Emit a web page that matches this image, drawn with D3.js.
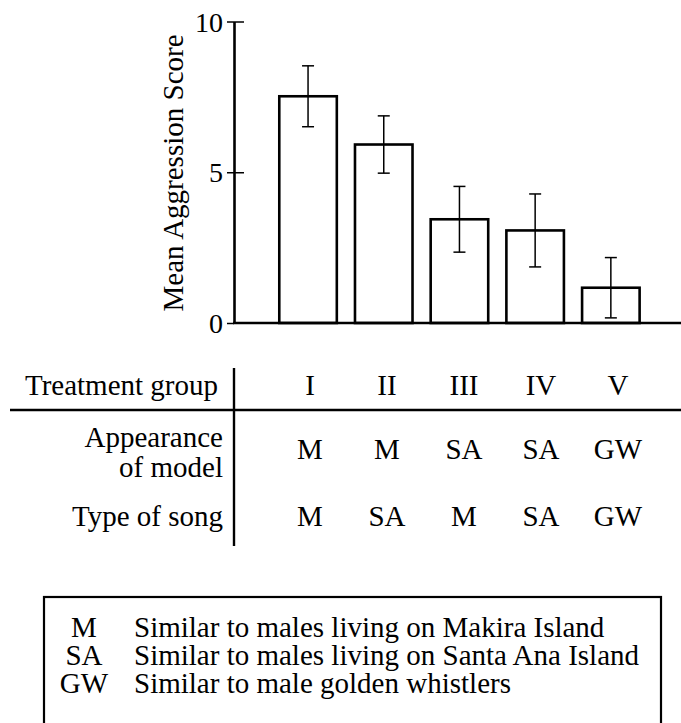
<!DOCTYPE html>
<html><head><meta charset="utf-8">
<script src="https://cdn.jsdelivr.net/npm/d3@7"></script>
<style>body{margin:0;background:#fff}</style>
</head><body><svg id="c" width="681" height="723" font-family="Liberation Serif, serif"></svg>
<script>
const groups = ["I", "II", "III", "IV", "V"];
const means = [7.52, 5.92, 3.44, 3.07, 1.17];
const errors = [1.01, 0.95, 1.09, 1.21, 1.0];
const yTicks = [0, 5, 10];
const yLabel = "Mean Aggression Score";
const headerLabel = "Treatment group";
const appearanceLabel = ["Appearance", "of model"];
const songLabel = "Type of song";
const appearance = ["M", "M", "SA", "SA", "GW"];
const song = ["M", "SA", "M", "SA", "GW"];
const legendCodes = ["M", "SA", "GW"];
const legendTexts = [
  "Similar to males living on Makira Island",
  "Similar to males living on Santa Ana Island",
  "Similar to male golden whistlers"
];

const FONT = '"Liberation Serif"';
const svg = d3.select("#c");

const axisX = 234, baseY = 323;
const y = d3.scaleLinear().domain([0, 10]).range([baseY, 21.5]);
const x = d3.scaleBand().domain(groups).range([270.2, 648.7]).paddingInner(0.24).paddingOuter(0.12);
const col = d3.scalePoint().domain(groups).range([310, 618]);

// Y axis
const yAxis = svg.append("g").attr("transform", `translate(${axisX},0)`)
  .call(d3.axisLeft(y).tickValues(yTicks).tickSizeOuter(0).tickSizeInner(7).tickPadding(5));
yAxis.attr("font-family", "Liberation Serif, serif");
yAxis.select(".domain").attr("stroke", "#000").attr("stroke-width", 2.6);
yAxis.selectAll(".tick line").attr("stroke", "#000").attr("stroke-width", 1.5)
  .attr("x1", d => d === 0 ? 0 : 10).attr("x2", -7);
yAxis.selectAll(".tick text").attr("fill", "#000").attr("font-size", 28)
  .attr("font-family", "Liberation Serif, serif")
  .style("font-family", FONT).attr("x", -11).attr("dy", "0.34em");

// Y label
svg.append("text")
  .attr("transform", `translate(183,${173}) rotate(-90)`)
  .attr("text-anchor", "middle").attr("font-size", 29).attr("fill", "#000")
  .attr("font-family", "Liberation Serif, serif")
  .style("font-family", FONT)
  .text(yLabel);

// Bars
const data = groups.map((g, i) => ({g, m: means[i], e: errors[i]}));
svg.append("g").selectAll("rect").data(data).join("rect")
  .attr("x", d => x(d.g)).attr("width", x.bandwidth())
  .attr("y", d => y(d.m)).attr("height", d => y(0) - y(d.m))
  .attr("fill", "#fff").attr("stroke", "#000").attr("stroke-width", 2.6);

// X axis baseline
svg.append("line").attr("x1", axisX - 1).attr("x2", 681).attr("y1", baseY).attr("y2", baseY)
  .attr("stroke", "#000").attr("stroke-width", 2.6);

// Error bars
const eb = svg.append("g").attr("stroke", "#000").attr("stroke-width", 1.5);
data.forEach(d => {
  const cx = x(d.g) + x.bandwidth() / 2;
  eb.append("line").attr("x1", cx).attr("x2", cx).attr("y1", y(d.m + d.e)).attr("y2", y(d.m - d.e));
  eb.append("line").attr("x1", cx - 6).attr("x2", cx + 6).attr("y1", y(d.m + d.e)).attr("y2", y(d.m + d.e));
  eb.append("line").attr("x1", cx - 6).attr("x2", cx + 6).attr("y1", y(d.m - d.e)).attr("y2", y(d.m - d.e));
});

// Table
const tbl = svg.append("g");
tbl.append("line").attr("x1", 10).attr("x2", 681).attr("y1", 410).attr("y2", 410)
  .attr("stroke", "#000").attr("stroke-width", 2.4);
tbl.append("line").attr("x1", axisX).attr("x2", axisX).attr("y1", 368).attr("y2", 546)
  .attr("stroke", "#000").attr("stroke-width", 2.4);
function txt(g, xx, yy, s, anchor) {
  return g.append("text").attr("x", xx).attr("y", yy).attr("text-anchor", anchor)
    .attr("font-size", 29).attr("fill", "#000")
    .attr("font-family", "Liberation Serif, serif")
    .style("font-family", FONT).text(s);
}
txt(tbl, 218, 395, headerLabel, "end");
txt(tbl, 223, 447, appearanceLabel[0], "end");
txt(tbl, 223, 477, appearanceLabel[1], "end");
txt(tbl, 223, 526, songLabel, "end");
groups.forEach((g, i) => {
  txt(tbl, col(g), 395, g, "middle");
  txt(tbl, col(g), 459, appearance[i], "middle");
  txt(tbl, col(g), 526, song[i], "middle");
});

// Legend
const lg = svg.append("g");
lg.append("rect").attr("x", 44).attr("y", 597).attr("width", 617).attr("height", 160)
  .attr("fill", "none").attr("stroke", "#000").attr("stroke-width", 2.2);
legendCodes.forEach((c, i) => {
  const yy = 637 + i * 28;
  txt(lg, 84, yy, c, "middle");
  txt(lg, 134, yy, legendTexts[i], "start");
});
</script></body></html>
